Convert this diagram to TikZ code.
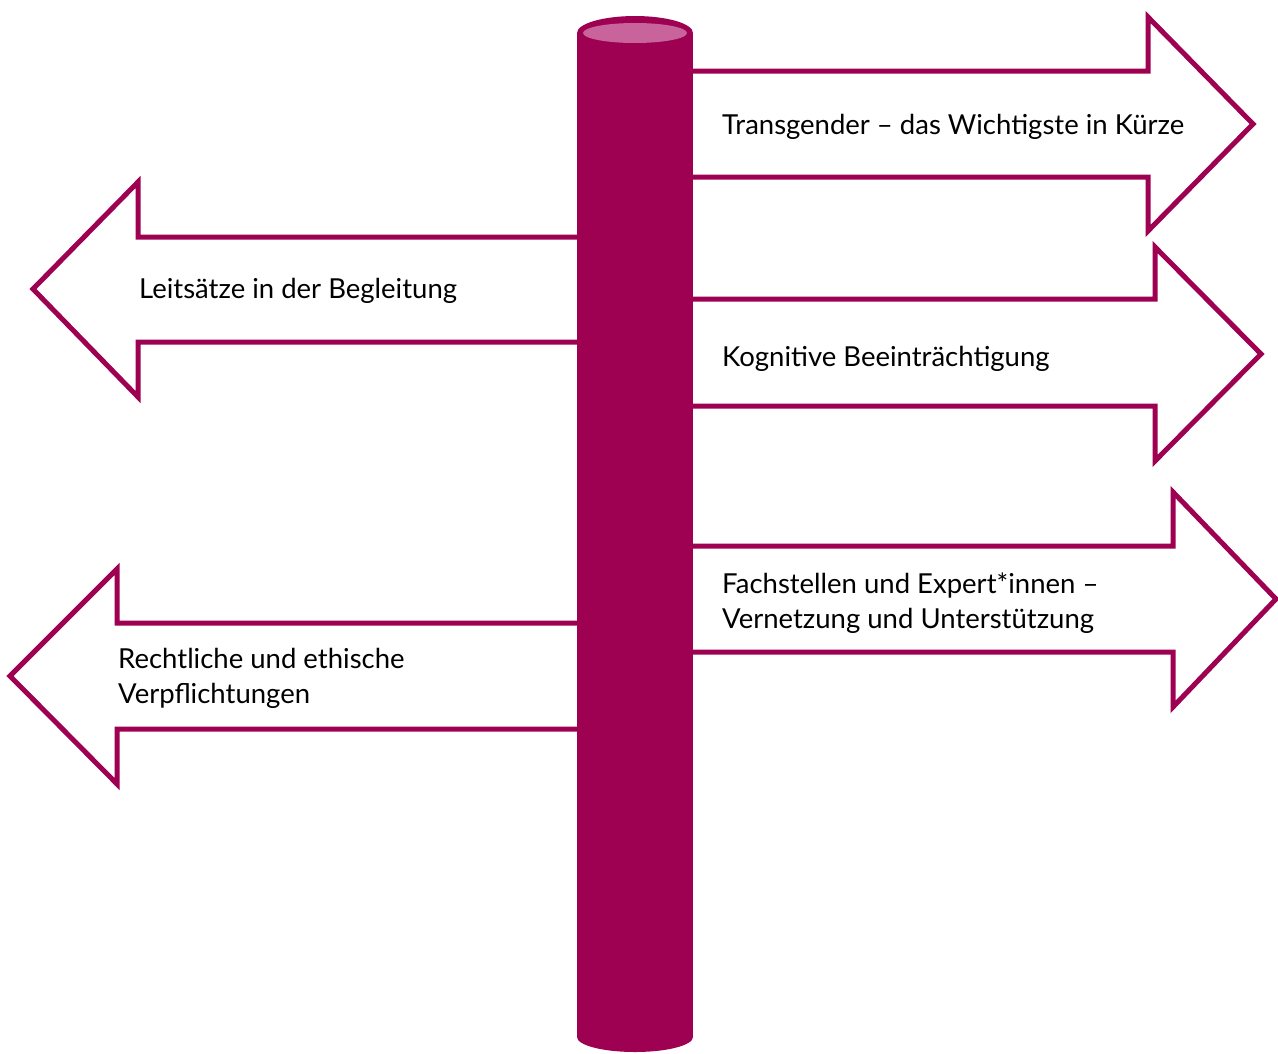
\documentclass[tikz,border=0pt]{standalone}
\usepackage{fontspec}
\setmainfont{Lato}
\usepackage{tikz}
\definecolor{pole}{RGB}{158,0,82}
\definecolor{poletop}{RGB}{200,100,155}

\begin{document}
\begin{tikzpicture}[x=1pt,y=-1pt,
  sign/.style={draw=pole,line width=5pt,fill=white},
  label/.style={anchor=west,inner sep=0pt,align=left,font=\fontsize{27.5}{35}\selectfont}]
\useasboundingbox (0,0) rectangle (1278,1053);
%arrows to the right
\draw [sign](650,71)--(1148,71)--(1148,17)--(1253,124)--(1148,231)--(1148,177)--(650,177)--cycle;
\draw [sign](650,299)--(1155,299)--(1155,247)--(1261,354)--(1155,461)--(1155,406)--(650,406)--cycle;
\draw [sign](650,546)--(1173,546)--(1173,492)--(1276,599)--(1173,707)--(1173,652)--(650,652)--cycle;
%arrows to the left
\draw [sign](620,237)--(138,237)--(138,182)--(33,289)--(138,397)--(138,342)--(620,342)--cycle;
\draw [sign](620,623)--(117,623)--(117,569)--(10,676)--(117,784)--(117,729)--(620,729)--cycle;
%pole
\fill [pole](577,33) rectangle (693,1037);
\fill [pole](635,1037) ellipse [x radius=58,y radius=15];
\fill [pole](635,33) ellipse [x radius=58,y radius=17];
\fill [poletop](635,33) ellipse [x radius=52,y radius=10];
%texts
\node [label] (trans) at (722,127) {Transgender -- das Wichtigste in Kürze};
\node [label] (kogn) at (722,359) {Kognitive Beeinträchtigung};
\node [label] (fach) at (722,603) {Fachstellen und Expert*innen --\\Vernetzung und Unterstützung};
\node [label] (leit) at (139,291) {Leitsätze in der Begleitung};
\node [label] (recht) at (118,678) {Rechtliche und ethische\\Verpflichtungen};
\end{tikzpicture}
\end{document}
